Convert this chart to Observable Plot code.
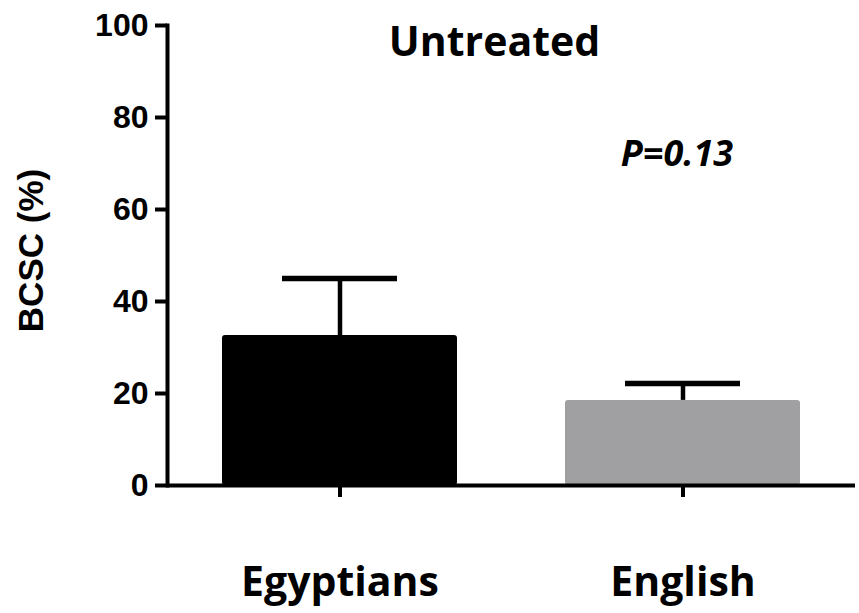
<!DOCTYPE html>
<html><head><meta charset="utf-8">
<script src="https://cdn.jsdelivr.net/npm/d3@7"></script>
<script src="https://cdn.jsdelivr.net/npm/@observablehq/plot@0.6"></script>
<style>body{margin:0;background:#fff} svg{display:block}</style>
</head><body><div id="chart"></div>
<script>
const groups = ["Egyptians", "English"];
const means = [32.6, 18.5];
const errors = [12.4, 3.7];
const colors = ["#000000", "#a0a0a2"];
const yTicks = [0, 20, 40, 60, 80, 100];
const title = "Untreated";
const pLabel = "P=0.13";
const yLabel = "BCSC (%)";

const data = groups.map((g, i) => ({group: g, mean: means[i], err: errors[i], color: colors[i]}));

const chart = Plot.plot({
  width: 859, height: 613,
  marginLeft: 167, marginRight: 4, marginTop: 25, marginBottom: 128,
  style: {background: "#fff", color: "#000"},
  x: {domain: groups, paddingInner: 0.315, paddingOuter: 0.16, label: null},
  y: {domain: [0, 100], label: null},
  color: {type: "identity"},
  marks: [
    Plot.ruleX(data, {x: "group", y1: "mean", y2: d => d.mean + d.err, stroke: "#000", strokeWidth: 4.5}),
    Plot.tickY(data, {x: "group", y: d => d.mean + d.err, stroke: "#000", strokeWidth: 5.5, insetLeft: 60, insetRight: 60}),
    Plot.barY(data, {x: "group", y: "mean", fill: d => d.color, rx: 3}),
    Plot.axisY({ticks: yTicks, tickSize: 12, tickPadding: 7, fontSize: 32, fontWeight: "bold", fontFamily: "Liberation Sans, Arial, sans-serif", strokeWidth: 4, label: null}),
    Plot.axisX({tickSize: 12, tickPadding: 69, fontSize: 41, fontWeight: "bold", fontFamily: "Open Sans, sans-serif", strokeWidth: 4, label: null}),
    Plot.frame({anchor: "left", strokeWidth: 4}),
    Plot.ruleY([0], {strokeWidth: 4}),
    Plot.text([title], {text: d => d, frameAnchor: "top", dx: -17, dy: 17, lineAnchor: "middle", fontSize: 41, fontWeight: "bold", fontFamily: "Open Sans, sans-serif"}),
    Plot.text([pLabel], {text: d => d, x: () => groups[1], y: () => 72, dx: -6, lineAnchor: "middle", fontSize: 36, fontWeight: "bold", fontStyle: "italic", fontFamily: "Open Sans, sans-serif"}),
    Plot.text([yLabel], {text: d => d, frameAnchor: "left", rotate: -90, dx: -136, dy: -5, textAnchor: "middle", lineAnchor: "middle", fontSize: 35, fontWeight: "bold", fontFamily: "Liberation Sans, Arial, sans-serif"})
  ]
});
document.getElementById("chart").appendChild(chart);
</script>
</body></html>
